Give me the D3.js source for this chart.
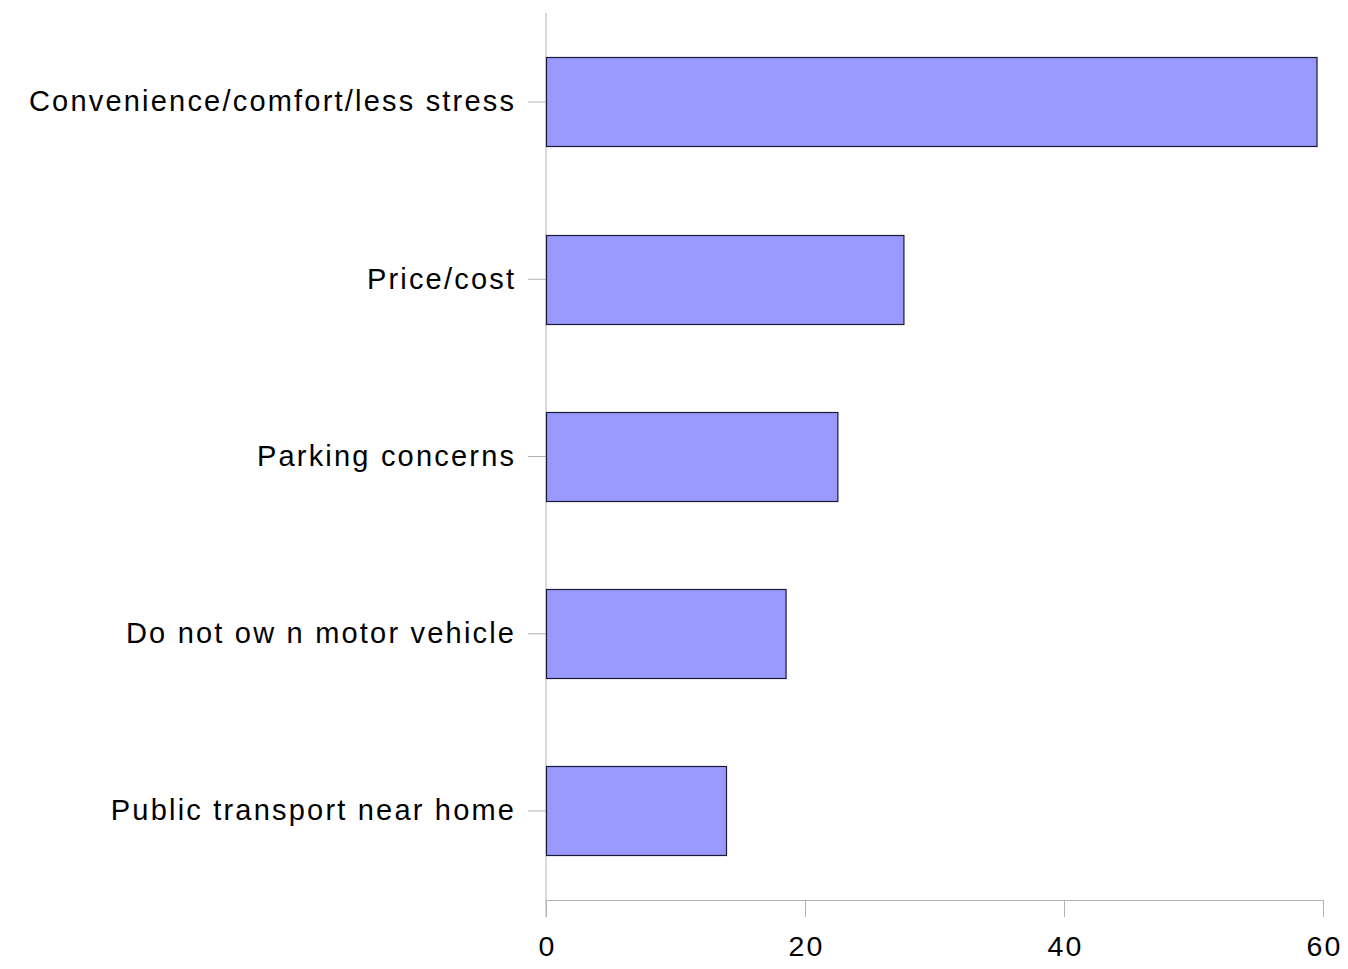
<!DOCTYPE html>
<html><head><meta charset="utf-8">
<script src="https://cdn.jsdelivr.net/npm/d3@7"></script>
<style>body{margin:0;background:#fff}svg{display:block}text{font-family:"Liberation Sans",Arial,sans-serif}</style>
</head><body><svg id="c" width="1348" height="969"></svg>
<script>
const categories = ["Convenience/comfort/less stress","Price/cost","Parking concerns","Do not ow n motor vehicle","Public transport near home"];
const values = [59.5, 27.6, 22.5, 18.5, 13.9];
const xTicks = [0, 20, 40, 60];

(function () {
const svg = d3.select("#c");
const mLeft = 546, mRight = 1323, mTop = 13, mBottom = 900;
const x = d3.scaleLinear().domain([0, 60]).range([mLeft, mRight]);
const y = d3.scaleBand().domain(categories).range([mTop, mBottom]).paddingInner(0.495).paddingOuter(0.25);
const axisColor = "#b3b3b3";
const ls = 2.2;

// x axis
const gx = svg.append("g").attr("transform", `translate(0,${mBottom})`)
  .call(d3.axisBottom(x).tickValues(xTicks).tickSize(17).tickSizeOuter(0).tickPadding(19));
gx.select(".domain").attr("stroke", axisColor);
gx.selectAll(".tick line").attr("stroke", axisColor);
gx.selectAll(".tick text").attr("font-size", 28.5).attr("fill", "#000")
  .attr("font-family", '"Liberation Sans",Arial,sans-serif')
  .attr("letter-spacing", ls).attr("dx", ls / 2);

// y axis
const gy = svg.append("g").attr("transform", `translate(${mLeft},0)`)
  .call(d3.axisLeft(y).tickSize(18).tickSizeOuter(0).tickPadding(14));
gy.select(".domain").attr("stroke", axisColor).attr("d", `M0,${mTop}V${mBottom + 17}`);
gy.selectAll(".tick line").attr("stroke", axisColor);
gy.selectAll(".tick text").attr("font-size", 29).attr("fill", "#000")
  .attr("font-family", '"Liberation Sans",Arial,sans-serif')
  .attr("letter-spacing", ls).attr("dx", ls);

// bars
svg.append("g").selectAll("rect").data(categories).join("rect")
  .attr("x", x(0) + 0.5)
  .attr("y", d => Math.round(y(d)) + 0.5)
  .attr("width", (d, i) => x(values[i]) - x(0))
  .attr("height", Math.round(y.bandwidth()))
  .attr("fill", "#9999ff")
  .attr("stroke", "#1a1a33")
  .attr("stroke-width", 1.2);
})();
</script></body></html>
